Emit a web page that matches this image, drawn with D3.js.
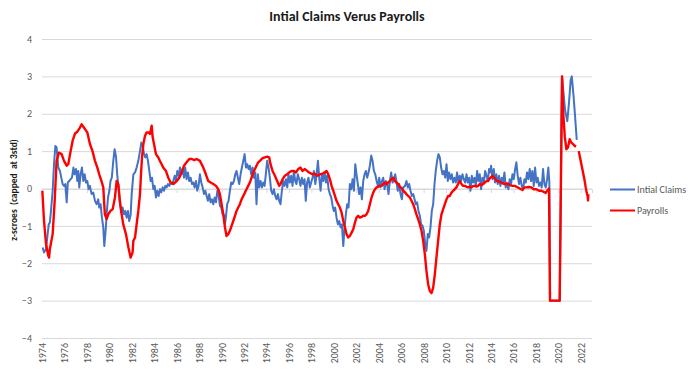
<!DOCTYPE html>
<html>
  <head>
    <meta charset="utf-8" />
    <script type="text/javascript" src="https://cdn.jsdelivr.net/npm/d3@7"></script>
    <style>
      body { margin: 0; background: #fff; }
      text { font-family: Carlito, Calibri, Lato, sans-serif; }
    </style>
  </head>
  <body>
    <script type="text/javascript">
      // chart data (decimal year, z-score)
      const chartTitle = "Intial Claims Verus Payrolls";
      const yTitle = "z-scroes  (capped  at 3std)";
      const seriesNames = ["Intial Claims", "Payrolls"];
      const yearTicks = d3.range(1974, 2023, 2);
      const zTicks = [-4, -3, -2, -1, 0, 1, 2, 3, 4];

      const claims = [
        [1974.06,-1.58],[1974.18,-1.71],[1974.36,-1.62],[1974.47,-1.31],[1974.6,-0.96],[1974.7,-0.91],[1974.8,-0.6],[1974.95,-0.06],
        [1975.07,0.65],[1975.19,1.14],[1975.3,1.1],[1975.45,0.56],[1975.6,0.47],[1975.72,0.29],[1975.84,0.12],[1975.96,0.07],
        [1976.08,0.12],[1976.2,-0.37],[1976.3,0.16],[1976.43,0.2],[1976.55,0.25],[1976.67,0.29],[1976.8,0.56],[1976.9,0.38],
        [1977.03,0.52],[1977.15,0.2],[1977.23,0.47],[1977.32,0.03],[1977.44,0.38],[1977.56,0.56],[1977.68,0.2],[1977.8,0.38],[1977.92,0.16],
        [1978.04,0.2],[1978.15,-0.02],[1978.27,0.07],[1978.42,-0.15],[1978.57,-0.11],[1978.72,-0.33],[1978.87,-0.42],
        [1979.01,-0.29],[1979.1,-0.51],[1979.22,-0.42],[1979.34,-0.78],[1979.46,-1.04],[1979.55,-1.54],[1979.67,-1.13],[1979.76,-0.69],[1979.88,-0.24],
        [1980.0,-0.06],[1980.1,0.2],[1980.22,0.29],[1980.35,0.74],[1980.47,1.05],[1980.6,0.83],[1980.7,0.38],[1980.82,0.03],[1980.94,-0.42],
        [1981.06,-0.64],[1981.18,-0.51],[1981.3,-0.69],[1981.42,-0.6],[1981.54,-0.78],[1981.66,-0.6],[1981.77,-0.87],[1981.9,-0.7],
        [1981.99,-0.15],[1982.14,0.38],[1982.29,0.43],[1982.43,0.56],[1982.58,0.74],[1982.73,1.0],[1982.85,1.23],[1982.97,1.14],
        [1983.09,0.92],[1983.2,0.83],[1983.32,0.92],[1983.44,0.74],[1983.56,0.47],[1983.68,0.2],[1983.8,0.29],[1983.92,-0.02],
        [1984.04,0.07],[1984.15,-0.24],[1984.27,-0.06],[1984.39,-0.2],[1984.51,-0.02],[1984.63,-0.1],[1984.75,0.03],[1984.87,-0.06],[1984.99,0.07],
        [1985.1,0.03],[1985.22,0.12],[1985.34,0.07],[1985.46,0.16],[1985.58,0.12],[1985.7,0.2],[1985.82,0.34],[1985.94,0.2],
        [1986.05,0.47],[1986.17,0.34],[1986.29,0.56],[1986.41,0.38],[1986.53,0.52],[1986.65,0.29],[1986.76,0.56],[1986.88,0.25],
        [1987.0,0.43],[1987.12,0.2],[1987.24,0.29],[1987.36,0.12],[1987.48,0.16],[1987.6,0.03],[1987.72,0.2],[1987.83,-0.06],[1987.95,0.07],
        [1988.07,0.38],[1988.19,0.16],[1988.31,0.03],[1988.43,-0.15],[1988.55,-0.06],[1988.67,-0.2],[1988.78,-0.33],[1988.9,-0.15],
        [1989.02,-0.37],[1989.14,-0.29],[1989.26,-0.42],[1989.38,-0.24],[1989.5,-0.37],[1989.62,-0.06],[1989.74,-0.2],[1989.85,-0.46],[1989.97,-0.51],
        [1990.09,-0.69],[1990.2,-0.7],[1990.3,-0.96],[1990.38,-0.78],[1990.5,-0.42],[1990.62,-0.33],[1990.74,-0.06],[1990.86,0.16],[1990.98,0.12],
        [1991.1,0.2],[1991.22,0.38],[1991.33,0.47],[1991.45,0.29],[1991.57,0.12],[1991.69,0.38],[1991.81,0.56],[1991.93,0.74],
        [1992.05,0.92],[1992.17,0.56],[1992.29,0.65],[1992.4,0.52],[1992.52,0.61],[1992.64,0.38],[1992.76,0.56],[1992.88,0.29],
        [1993.0,0.43],[1993.11,-0.42],[1993.23,0.38],[1993.35,0.03],[1993.47,0.2],[1993.59,0.03],[1993.71,0.16],[1993.83,0.07],[1993.94,0.38],
        [1994.06,0.74],[1994.18,0.56],[1994.3,0.29],[1994.42,-0.06],[1994.54,-0.15],[1994.66,-0.02],[1994.78,-0.2],[1994.9,-0.29],
        [1995.02,-0.15],[1995.13,-0.33],[1995.25,-0.42],[1995.37,-0.06],[1995.49,0.2],[1995.61,0.07],[1995.73,0.25],[1995.85,0.03],[1995.96,0.38],
        [1996.08,0.16],[1996.2,0.34],[1996.32,0.07],[1996.44,0.47],[1996.56,0.2],[1996.67,0.12],[1996.79,0.38],[1996.91,0.25],
        [1997.03,0.07],[1997.15,0.29],[1997.27,0.12],[1997.39,0.25],[1997.5,-0.33],[1997.62,0.16],[1997.74,0.29],[1997.86,0.03],[1997.98,0.16],
        [1998.1,0.29],[1998.22,0.47],[1998.35,0.12],[1998.47,0.38],[1998.58,0.74],[1998.7,0.29],[1998.82,-0.06],[1998.94,0.38],
        [1999.06,0.2],[1999.18,0.43],[1999.3,0.16],[1999.41,0.34],[1999.53,-0.02],[1999.65,-0.15],[1999.77,-0.24],[1999.89,-0.46],
        [2000.0,-0.6],[2000.12,-0.51],[2000.24,-0.78],[2000.36,-0.96],[2000.48,-0.87],[2000.6,-1.04],[2000.72,-0.96],[2000.84,-1.54],[2000.96,-1.04],
        [2001.07,-0.69],[2001.19,-0.42],[2001.31,-0.51],[2001.43,0.12],[2001.55,-0.02],[2001.67,0.25],[2001.79,-0.06],[2001.91,0.65],
        [2002.02,0.38],[2002.14,0.12],[2002.26,-0.15],[2002.38,0.03],[2002.5,-0.29],[2002.62,0.2],[2002.74,0.38],[2002.86,0.47],[2002.97,0.29],
        [2003.09,0.43],[2003.21,0.61],[2003.33,0.88],[2003.45,0.74],[2003.57,0.47],[2003.69,0.38],[2003.81,0.2],[2003.93,0.07],
        [2004.04,0.29],[2004.16,0.03],[2004.28,0.2],[2004.4,0.29],[2004.52,-0.02],[2004.64,0.2],[2004.75,0.12],[2004.87,-0.15],[2004.99,0.2],
        [2005.11,0.43],[2005.23,0.16],[2005.35,0.25],[2005.47,0.38],[2005.59,0.16],[2005.7,-0.06],[2005.82,0.12],[2005.94,-0.15],
        [2006.06,-0.29],[2006.18,0.03],[2006.35,0.07],[2006.47,0.2],[2006.59,0.03],[2006.71,0.12],[2006.83,-0.06],[2006.95,-0.2],
        [2007.07,-0.15],[2007.19,-0.29],[2007.3,-0.42],[2007.42,-0.37],[2007.54,-0.6],[2007.66,-0.73],[2007.78,-0.96],[2007.9,-1.0],
        [2008.02,-1.13],[2008.14,-1.49],[2008.25,-1.67],[2008.37,-1.22],[2008.49,-1.31],[2008.61,-1.04],[2008.73,-0.6],[2008.85,-0.42],[2008.97,0.12],
        [2009.08,0.47],[2009.2,0.74],[2009.32,0.92],[2009.44,0.83],[2009.56,0.56],[2009.68,0.38],[2009.8,0.47],[2009.92,0.29],
        [2010.04,0.65],[2010.15,0.2],[2010.27,0.43],[2010.39,0.25],[2010.51,0.38],[2010.63,0.16],[2010.75,0.29],[2010.87,0.16],[2010.98,0.43],
        [2011.1,0.16],[2011.22,0.34],[2011.34,0.2],[2011.46,0.38],[2011.58,0.25],[2011.7,0.16],[2011.82,0.38],[2011.93,0.16],
        [2012.05,0.29],[2012.17,-0.06],[2012.29,0.34],[2012.41,0.16],[2012.53,0.29],[2012.65,0.07],[2012.77,0.47],[2012.88,0.2],
        [2013.0,0.38],[2013.12,-0.02],[2013.24,0.29],[2013.36,0.16],[2013.48,0.47],[2013.6,0.34],[2013.72,0.2],[2013.83,0.52],[2013.95,0.43],
        [2014.01,0.61],[2014.13,0.25],[2014.25,0.52],[2014.36,0.16],[2014.48,0.38],[2014.6,0.12],[2014.72,0.34],[2014.84,0.07],[2014.96,0.29],
        [2015.08,0.16],[2015.2,0.43],[2015.31,0.03],[2015.43,0.12],[2015.55,-0.02],[2015.67,0.25],[2015.79,0.12],[2015.91,0.38],
        [2016.03,0.25],[2016.15,0.52],[2016.26,0.7],[2016.38,0.34],[2016.5,0.12],[2016.62,0.29],[2016.74,0.07],[2016.86,-0.02],[2016.98,0.25],
        [2017.1,0.16],[2017.21,0.43],[2017.33,0.25],[2017.45,0.52],[2017.57,0.2],[2017.69,0.47],[2017.81,0.07],[2017.93,0.56],
        [2018.05,0.16],[2018.16,0.29],[2018.28,0.07],[2018.4,0.16],[2018.52,0.03],[2018.64,0.52],[2018.76,0.12],[2018.88,0.03],
        [2019.0,0.25],[2019.11,0.56],[2019.2,0.16],[2019.26,-3],[2020.12,-3],
        [2020.33,3],[2020.45,2.6],[2020.6,2.1],[2020.8,1.8],[2020.95,2.3],[2021.1,2.9],[2021.2,3],[2021.35,2.5],[2021.5,1.9],[2021.64,1.3]
      ];

      const payrolls = [
        [1974.03,-0.06],[1974.18,-0.87],[1974.36,-1.49],[1974.56,-1.8],[1974.63,-1.85],[1974.7,-1.62],[1974.95,-1.22],
        [1975.13,-0.33],[1975.3,0.74],[1975.5,0.96],[1975.75,0.92],[1975.96,0.74],
        [1976.2,0.61],[1976.34,0.65],[1976.5,0.92],[1976.73,1.28],[1976.94,1.47],
        [1977.15,1.52],[1977.38,1.63],[1977.53,1.72],[1977.68,1.65],[1977.83,1.59],
        [1978.04,1.5],[1978.27,1.19],[1978.5,1.0],[1978.72,0.74],[1978.93,0.56],
        [1979.1,0.38],[1979.3,0.2],[1979.46,0.03],[1979.6,-0.69],[1979.76,-0.82],[1979.9,-0.69],
        [1980.1,-0.6],[1980.3,-0.55],[1980.5,-0.24],[1980.65,0.2],[1980.8,0.11],[1980.94,-0.33],
        [1981.1,-0.69],[1981.24,-0.96],[1981.48,-1.22],[1981.7,-1.58],[1981.9,-1.85],
        [1982.07,-1.71],[1982.14,-1.4],[1982.29,-1.31],[1982.43,-0.96],[1982.58,-0.6],[1982.73,-0.15],[1982.82,0.38],[1982.91,0.83],
        [1983.03,1.19],[1983.18,1.41],[1983.32,1.5],[1983.47,1.5],[1983.62,1.46],[1983.77,1.68],[1983.86,1.37],[1983.98,1.19],
        [1984.15,0.92],[1984.36,0.83],[1984.5,0.74],[1984.66,0.65],[1984.8,0.56],
        [1985.04,0.47],[1985.25,0.29],[1985.46,0.16],[1985.7,0.12],
        [1986.0,0.2],[1986.23,0.29],[1986.44,0.43],[1986.65,0.61],[1986.88,0.7],
        [1987.12,0.79],[1987.35,0.79],[1987.57,0.76],[1987.77,0.79],
        [1988.07,0.74],[1988.37,0.56],[1988.6,0.38],[1988.81,0.2],
        [1989.02,0.16],[1989.26,0.12],[1989.5,0.07],[1989.7,-0.02],[1989.85,-0.15],
        [1990.0,-0.42],[1990.15,-0.69],[1990.3,-1.04],[1990.44,-1.27],[1990.59,-1.22],[1990.74,-1.13],[1990.89,-1.0],
        [1991.04,-0.87],[1991.19,-0.73],[1991.33,-0.6],[1991.48,-0.51],[1991.63,-0.42],[1991.78,-0.29],[1991.93,-0.2],
        [1992.08,-0.11],[1992.22,-0.02],[1992.37,0.07],[1992.52,0.16],[1992.67,0.29],[1992.82,0.43],[1992.97,0.52],
        [1993.11,0.61],[1993.26,0.7],[1993.41,0.74],[1993.65,0.81],[1993.86,0.83],
        [1994.06,0.85],[1994.24,0.83],[1994.36,0.65],[1994.54,0.47],[1994.75,0.34],[1994.95,0.2],
        [1995.13,0.07],[1995.25,0.12],[1995.43,0.25],[1995.64,0.34],[1995.84,0.38],
        [1996.02,0.43],[1996.23,0.47],[1996.44,0.47],[1996.63,0.43],[1996.82,0.52],
        [1997.03,0.56],[1997.21,0.47],[1997.42,0.52],[1997.62,0.47],[1997.8,0.43],
        [1998.1,0.38],[1998.3,0.4],[1998.52,0.34],[1998.76,0.38],
        [1999.0,0.4],[1999.2,0.43],[1999.35,0.47],[1999.5,0.38],[1999.65,0.25],[1999.8,0.07],[1999.95,-0.06],
        [2000.1,-0.2],[2000.24,-0.33],[2000.39,-0.42],[2000.54,-0.51],[2000.69,-0.64],[2000.84,-0.87],[2000.99,-1.04],
        [2001.13,-1.22],[2001.28,-1.31],[2001.43,-1.27],[2001.58,-1.18],[2001.73,-1.09],[2001.88,-0.91],
        [2002.02,-0.78],[2002.17,-0.73],[2002.32,-0.78],[2002.47,-0.76],[2002.62,-0.73],[2002.76,-0.73],[2002.91,-0.69],
        [2003.06,-0.6],[2003.21,-0.42],[2003.36,-0.24],[2003.51,-0.11],[2003.66,-0.02],[2003.81,0.03],[2003.96,0.05],
        [2004.1,0.07],[2004.25,0.07],[2004.4,0.12],[2004.55,0.16],[2004.7,0.12],[2004.84,0.16],[2004.99,0.2],
        [2005.14,0.25],[2005.29,0.29],[2005.44,0.2],[2005.58,0.16],[2005.73,0.12],[2005.88,0.05],
        [2006.03,0.01],[2006.18,-0.06],[2006.33,-0.1],[2006.47,-0.15],[2006.62,-0.2],[2006.77,-0.24],[2006.92,-0.33],
        [2007.07,-0.42],[2007.22,-0.55],[2007.36,-0.69],[2007.51,-0.82],[2007.66,-0.96],[2007.81,-1.13],[2007.96,-1.4],
        [2008.11,-1.76],[2008.25,-2.2],[2008.4,-2.56],[2008.55,-2.74],[2008.7,-2.8],[2008.85,-2.65],
        [2009.0,-2.29],[2009.14,-1.85],[2009.29,-1.4],[2009.44,-0.96],[2009.59,-0.69],[2009.74,-0.55],[2009.89,-0.42],
        [2010.04,-0.29],[2010.18,-0.2],[2010.33,-0.2],[2010.48,-0.11],[2010.63,-0.06],[2010.78,-0.02],[2010.92,0.03],
        [2011.07,0.12],[2011.22,0.2],[2011.37,0.12],[2011.52,0.07],[2011.67,0.07],[2011.81,0.05],[2011.96,0.03],
        [2012.11,0.05],[2012.26,0.03],[2012.41,0.07],[2012.56,0.07],[2012.7,0.05],[2012.85,0.07],
        [2013.0,0.12],[2013.15,0.09],[2013.3,0.12],[2013.45,0.16],[2013.6,0.2],[2013.74,0.2],[2013.89,0.27],
        [2014.13,0.34],[2014.34,0.27],[2014.54,0.2],[2014.78,0.18],
        [2015.02,0.14],[2015.23,0.12],[2015.43,0.14],[2015.67,0.09],[2015.91,0.07],
        [2016.12,0.07],[2016.32,0.04],[2016.56,0.0],[2016.8,-0.04],[2016.98,0.03],
        [2017.15,0.03],[2017.39,0.04],[2017.6,0.03],[2017.81,-0.02],
        [2018.04,-0.02],[2018.28,-0.06],[2018.49,-0.06],[2018.7,-0.09],[2018.88,-0.12],
        [2019.0,-0.06],[2019.17,0.0],[2019.26,-3],[2020.12,-3],
        [2020.33,3],[2020.42,2.1],[2020.57,1.4],[2020.72,1.05],[2020.86,1.1],
        [2021.01,1.32],[2021.16,1.23],[2021.31,1.19],[2021.46,1.14],[2021.58,1.12],
        [2021.7,null],
        [2021.82,1.0],[2021.96,0.79],[2022.14,0.52],[2022.32,0.25],[2022.44,0.03],[2022.53,-0.11],[2022.61,-0.2],[2022.64,-0.32],[2022.68,-0.15]
      ];

      const W = 697;
      const H = 373;
      const margin = { top: 39, right: 105, bottom: 35, left: 42 };
      const w = W - margin.left - margin.right;
      const h = H - margin.top - margin.bottom;

      const svg = d3
        .select("body")
        .append("svg")
        .attr("width", W)
        .attr("height", H);

      const g = svg
        .append("g")
        .attr("transform", "translate(" + margin.left + "," + margin.top + ")");

      const x = d3.scaleLinear().domain([1974, 2023]).range([0, w]);
      const y = d3.scaleLinear().domain([-4, 4]).range([h, 0]);

      // title
      svg
        .append("text")
        .attr("x", 347)
        .attr("y", 21)
        .attr("text-anchor", "middle")
        .style("font-size", "14px")
        .style("font-weight", "bold")
        .style("fill", "#1a1a1a")
        .text(chartTitle);

      // horizontal gridlines
      g.selectAll(".grid")
        .data(zTicks)
        .enter()
        .append("line")
        .attr("class", "grid")
        .attr("x1", 0)
        .attr("x2", w)
        .attr("y1", (d) => y(d) + 0.5)
        .attr("y2", (d) => y(d) + 0.5)
        .attr("stroke", "#d9d9d9")
        .attr("stroke-width", 1);

      // y axis labels
      const yAxis = d3.axisLeft(y).tickValues(zTicks).tickSize(0).tickPadding(10);
      const yg = g.append("g").call(yAxis);
      yg.select(".domain").remove();
      yg.selectAll("text").style("font-size", "10px").style("fill", "#595959");

      // small tick marks on the zero line
      const zeroAxis = d3.axisBottom(x).tickValues(yearTicks).tickSize(4).tickFormat("");
      const zg = g.append("g").attr("transform", "translate(0," + (y(0) + 0.5) + ")").call(zeroAxis);
      zg.selectAll("line, path").attr("stroke", "#d9d9d9");

      // x axis labels at the bottom, turned on their side
      const xAxis = d3.axisBottom(x).tickValues(yearTicks).tickSize(0).tickFormat(d3.format("d"));
      const xg = g.append("g").attr("transform", "translate(0," + h + ")").call(xAxis);
      xg.select(".domain").remove();
      xg.selectAll("text")
        .attr("transform", "rotate(-90)")
        .attr("text-anchor", "end")
        .attr("x", -5)
        .attr("y", 0)
        .attr("dy", "0.35em")
        .style("font-size", "10px")
        .style("fill", "#595959");

      // y axis title
      svg
        .append("text")
        .attr("transform", "translate(17,190) rotate(-90)")
        .attr("text-anchor", "middle")
        .attr("xml:space", "preserve")
        .style("white-space", "pre")
        .style("font-size", "9.5px")
        .style("font-weight", "bold")
        .style("fill", "#1a1a1a")
        .text(yTitle);

      const line = d3
        .line()
        .defined((d) => d[1] !== null)
        .x((d) => x(d[0]))
        .y((d) => y(d[1]));

      g.append("path")
        .datum(claims)
        .attr("d", line)
        .attr("fill", "none")
        .attr("stroke", "#4472c4")
        .attr("stroke-width", 2)
        .attr("stroke-linejoin", "round");

      g.append("path")
        .datum(payrolls)
        .attr("d", line)
        .attr("fill", "none")
        .attr("stroke", "#ff0000")
        .attr("stroke-width", 2.4)
        .attr("stroke-linejoin", "round");

      // legend
      const colors = ["#4472c4", "#ff0000"];
      const legend = svg
        .selectAll(".legend")
        .data(seriesNames)
        .enter()
        .append("g")
        .attr("class", "legend")
        .attr("transform", (d, i) => "translate(610," + (189.5 + i * 21) + ")");

      legend
        .append("line")
        .attr("x1", 0)
        .attr("x2", 25)
        .attr("stroke", (d, i) => colors[i])
        .attr("stroke-width", 2);

      legend
        .append("text")
        .attr("x", 27)
        .attr("dy", "0.35em")
        .style("font-size", "10px")
        .style("fill", "#595959")
        .text((d) => d);
    </script>
  </body>
</html>
